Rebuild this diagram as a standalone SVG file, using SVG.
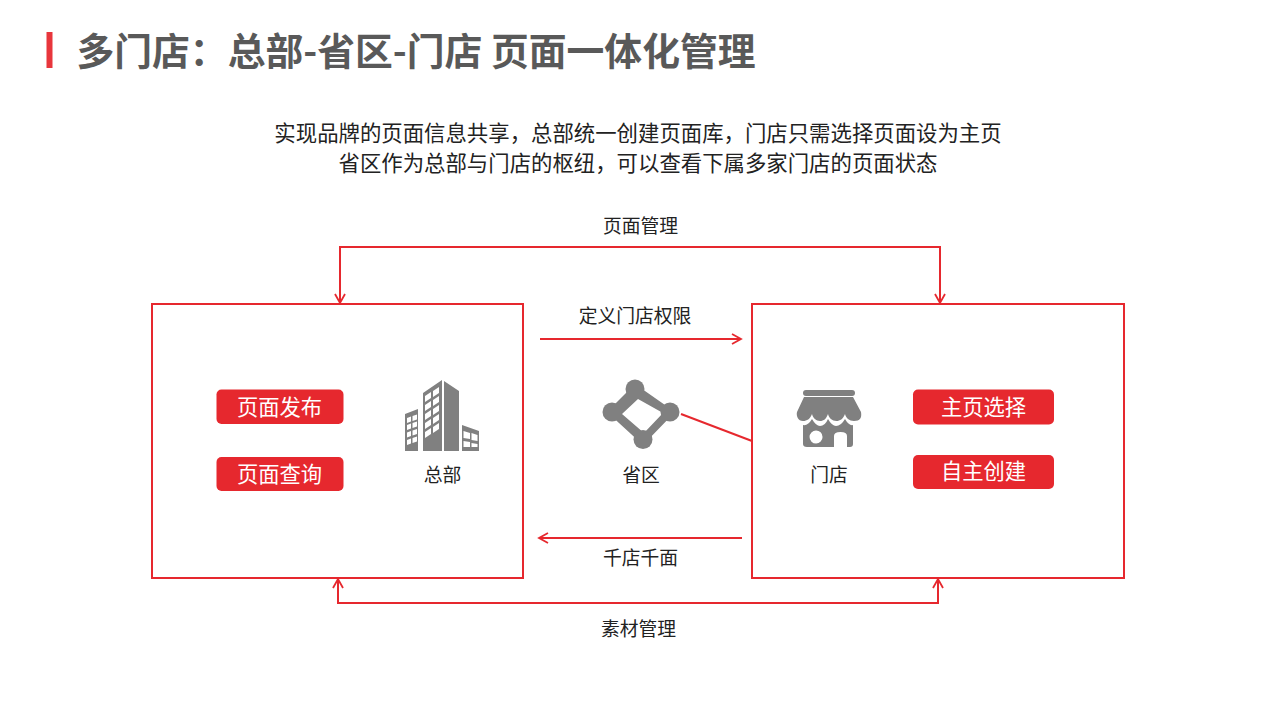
<svg xmlns="http://www.w3.org/2000/svg" width="1280" height="720" viewBox="0 0 1280 720">
<defs>
<marker id="arr" markerUnits="userSpaceOnUse" markerWidth="12" markerHeight="12" refX="10" refY="6" orient="auto-start-reverse"><path d="M1 1L10 6L1 11" fill="none" stroke="#e6282e" stroke-width="1.8"/></marker>
</defs>
<style>
text{font-family:"Noto Sans CJK SC","Liberation Sans",sans-serif;text-anchor:middle}
.t{font-size:18.800px;fill:#222}
.d{font-size:21.400px;fill:#222}
.w{font-size:21.300px;fill:#fff}
.box{fill:#fff;stroke:#e6282e;stroke-width:2}
.pill{fill:#e6282e}
.c{fill:none;stroke:#e6282e;stroke-width:2}
.i{fill:#808080}
</style>
<rect width="1280" height="720" fill="#fff"/>
<g id="title">
<rect x="46.500" y="32" width="6" height="36" fill="#e8363c"/>
<text x="416" y="65" style="font-size:37.800px;font-weight:700;fill:#595959">多门店：总部-省区-门店 页面一体化管理</text>
</g>
<g id="intro">
<text x="638" y="140.500" class="d">实现品牌的页面信息共享，总部统一创建页面库，门店只需选择页面设为主页</text>
<text x="638" y="171" class="d">省区作为总部与门店的枢纽，可以查看下属多家门店的页面状态</text>
</g>
<g id="node-hq">
<rect class="box" x="152" y="304" width="371" height="274"/>
<rect class="pill" x="216.500" y="389.500" width="127" height="34.500" rx="5"/>
<text class="w" x="279.500" y="414.500">页面发布</text>
<rect class="pill" x="216.500" y="457" width="127" height="34" rx="5"/>
<text class="w" x="279.500" y="481.500">页面查询</text>
<path class="i" fill-rule="evenodd" d="M405 414L418 409V451H405ZM407 418V423L411 421.500V416.500ZM412.500 416V421L417 419.500V414.500ZM407 425V430L411 428.500V423.500ZM412.500 423V428L417 426.500V421.500ZM407 432.500V437.500L411 436V431ZM412.500 430.500V435.500L417 434V429ZM407 440V445L411 443.500V438.500ZM412.500 438V443L417 441.500V436.500ZM423 393L442 380V451H423ZM425 396V402L431 398V392ZM433 391V397L439 393V387ZM425 405V411L431 407V401ZM433 400V406L439 402V396ZM425 414V420L431 416V410ZM433 409V415L439 411V405ZM425 423V429L431 425V419ZM433 418V424L439 420V414ZM425 432V438L431 434V428ZM433 427V433L439 429V423ZM444 381L459 391V451H444ZM462 425L479 431V451H462ZM463.500 431V438L470 439V433ZM471.500 433V440L477.500 441V435ZM463.500 441V447L470 447V442ZM471.500 443V447L477.500 447V444Z"/>
<text class="t" x="442.500" y="482">总部</text>
</g>
<g id="node-province">
<path class="i" fill-rule="evenodd" d="M635 384L675 412L643 445L607 412ZM638 399L622 414L644 433L663 413Z"/>
<circle class="i" cx="635" cy="389" r="9.500"/><circle class="i" cx="612" cy="412" r="9.500"/><circle class="i" cx="670" cy="412" r="9.500"/><circle class="i" cx="643" cy="439.500" r="9.500"/>
<text class="t" x="641" y="482">省区</text>
</g>
<g id="node-store">
<rect class="box" x="752" y="304" width="372" height="274"/>
<rect class="i" x="803" y="390" width="52" height="6" rx="3"/>
<path class="i" d="M804 397H853L861 412C862 418 860 421 854 421C849 421 846 418 845 414C843 419 840 421 836.500 421C832 421 829 418 828 414C826 419 824 421 820 421C816 421 813 418 812 414C810 419 807 421 803 421C798 421 796 416 797 412Z"/>
<path class="i" fill-rule="evenodd" d="M803 425Q808 426 812 419Q816 426 820 426Q825 426 828 419Q832 426 836 426Q841 426 845 419Q849 426 853 425V444Q853 447 850 447H847V436Q847 432 840.500 432Q834 432 834 436V447H807Q803 447 803 444ZM816 430.500A6.500 6.500 0 1 0 816.100 443.500A6.500 6.500 0 1 0 816 430.500Z"/>
<text class="t" x="829" y="482">门店</text>
<rect class="pill" x="913" y="389.500" width="141" height="35" rx="5"/>
<text class="w" x="983.500" y="414.500">主页选择</text>
<rect class="pill" x="913" y="455" width="141" height="34" rx="5"/>
<text class="w" x="983.500" y="479">自主创建</text>
</g>
<g id="connectors">
<path class="c" d="M340 303V247H940V303" marker-start="url(#arr)" marker-end="url(#arr)"/>
<path class="c" d="M338 579V603H938V579" marker-start="url(#arr)" marker-end="url(#arr)"/>
<path class="c" d="M540 339H741" marker-end="url(#arr)"/>
<path class="c" d="M742 538H539" marker-end="url(#arr)"/>
<path class="c" d="M681 414L752 441"/>
<text class="t" x="640.500" y="233">页面管理</text>
<text class="t" x="635" y="322.500">定义门店权限</text>
<text class="t" x="640.500" y="565">千店千面</text>
<text class="t" x="638.500" y="636">素材管理</text>
</g>
</svg>
